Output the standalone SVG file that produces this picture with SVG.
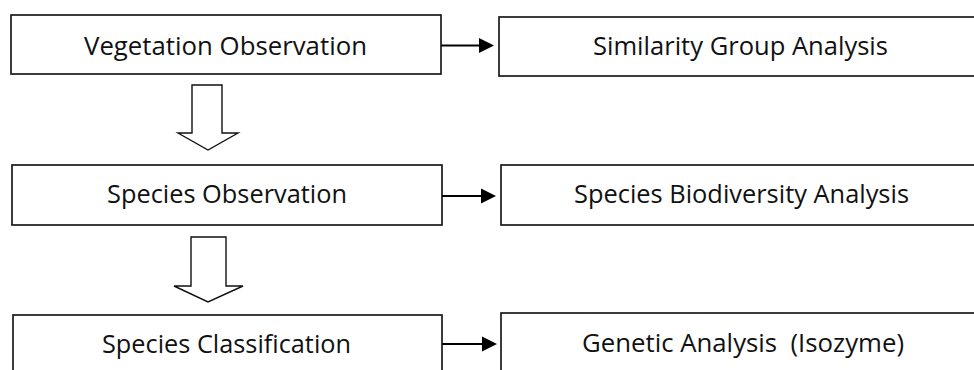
<svg xmlns="http://www.w3.org/2000/svg" width="974" height="370" viewBox="0 0 974 370">
<style>
.box{fill:#fff;stroke:#1a1a1a;stroke-width:1.7}
.lbl{font-family:"Open Sans","Liberation Sans",sans-serif;font-size:25px;fill:#111;text-anchor:middle}
.ln{stroke:#000;stroke-width:1.8;fill:none}
.hd{fill:#000;stroke:none}
.big{fill:#fff;stroke:#111;stroke-width:1.4;stroke-linejoin:miter}
</style>
<rect width="974" height="370" fill="#fff"/>
<g id="n-veg"><rect class="box" x="11" y="15" width="430" height="59"/><text class="lbl" x="225.5" y="54.5" textLength="283" lengthAdjust="spacingAndGlyphs">Vegetation Observation</text></g>
<g id="n-sim"><rect class="box" x="499" y="17" width="490" height="59"/><text class="lbl" x="740.5" y="55" textLength="295" lengthAdjust="spacingAndGlyphs">Similarity Group Analysis</text></g>
<g id="n-spo"><rect class="box" x="12" y="165" width="430" height="60"/><text class="lbl" x="227" y="203" textLength="240" lengthAdjust="spacingAndGlyphs">Species Observation</text></g>
<g id="n-bio"><rect class="box" x="501" y="165" width="490" height="60"/><text class="lbl" x="741.5" y="203" textLength="335" lengthAdjust="spacingAndGlyphs">Species Biodiversity Analysis</text></g>
<g id="n-cls"><rect class="box" x="13" y="315" width="429" height="70"/><text class="lbl" x="226.5" y="353" textLength="249" lengthAdjust="spacingAndGlyphs">Species Classification</text></g>
<g id="n-gen"><rect class="box" x="501" y="313" width="490" height="70"/><text class="lbl" x="743" y="352" textLength="322" lengthAdjust="spacingAndGlyphs" xml:space="preserve">Genetic Analysis  (Isozyme)</text></g>
<g id="connectors">
<line class="ln" x1="441" y1="45.5" x2="481" y2="45.5"/><polygon class="hd" points="479,38 494,45.5 479,53"/>
<line class="ln" x1="442" y1="196" x2="483" y2="196"/><polygon class="hd" points="481,188.5 496,196 481,203.5"/>
<line class="ln" x1="442" y1="344" x2="484" y2="344"/><polygon class="hd" points="482,336.5 497,344 482,351.5"/>
<polygon class="big" points="192,85 222,85 222,133 238,133 208,150 178,133 192,133"/>
<polygon class="big" points="191,237 226,237 226,286 243,286 208,302 174,286 191,286"/>
</g>
</svg>
